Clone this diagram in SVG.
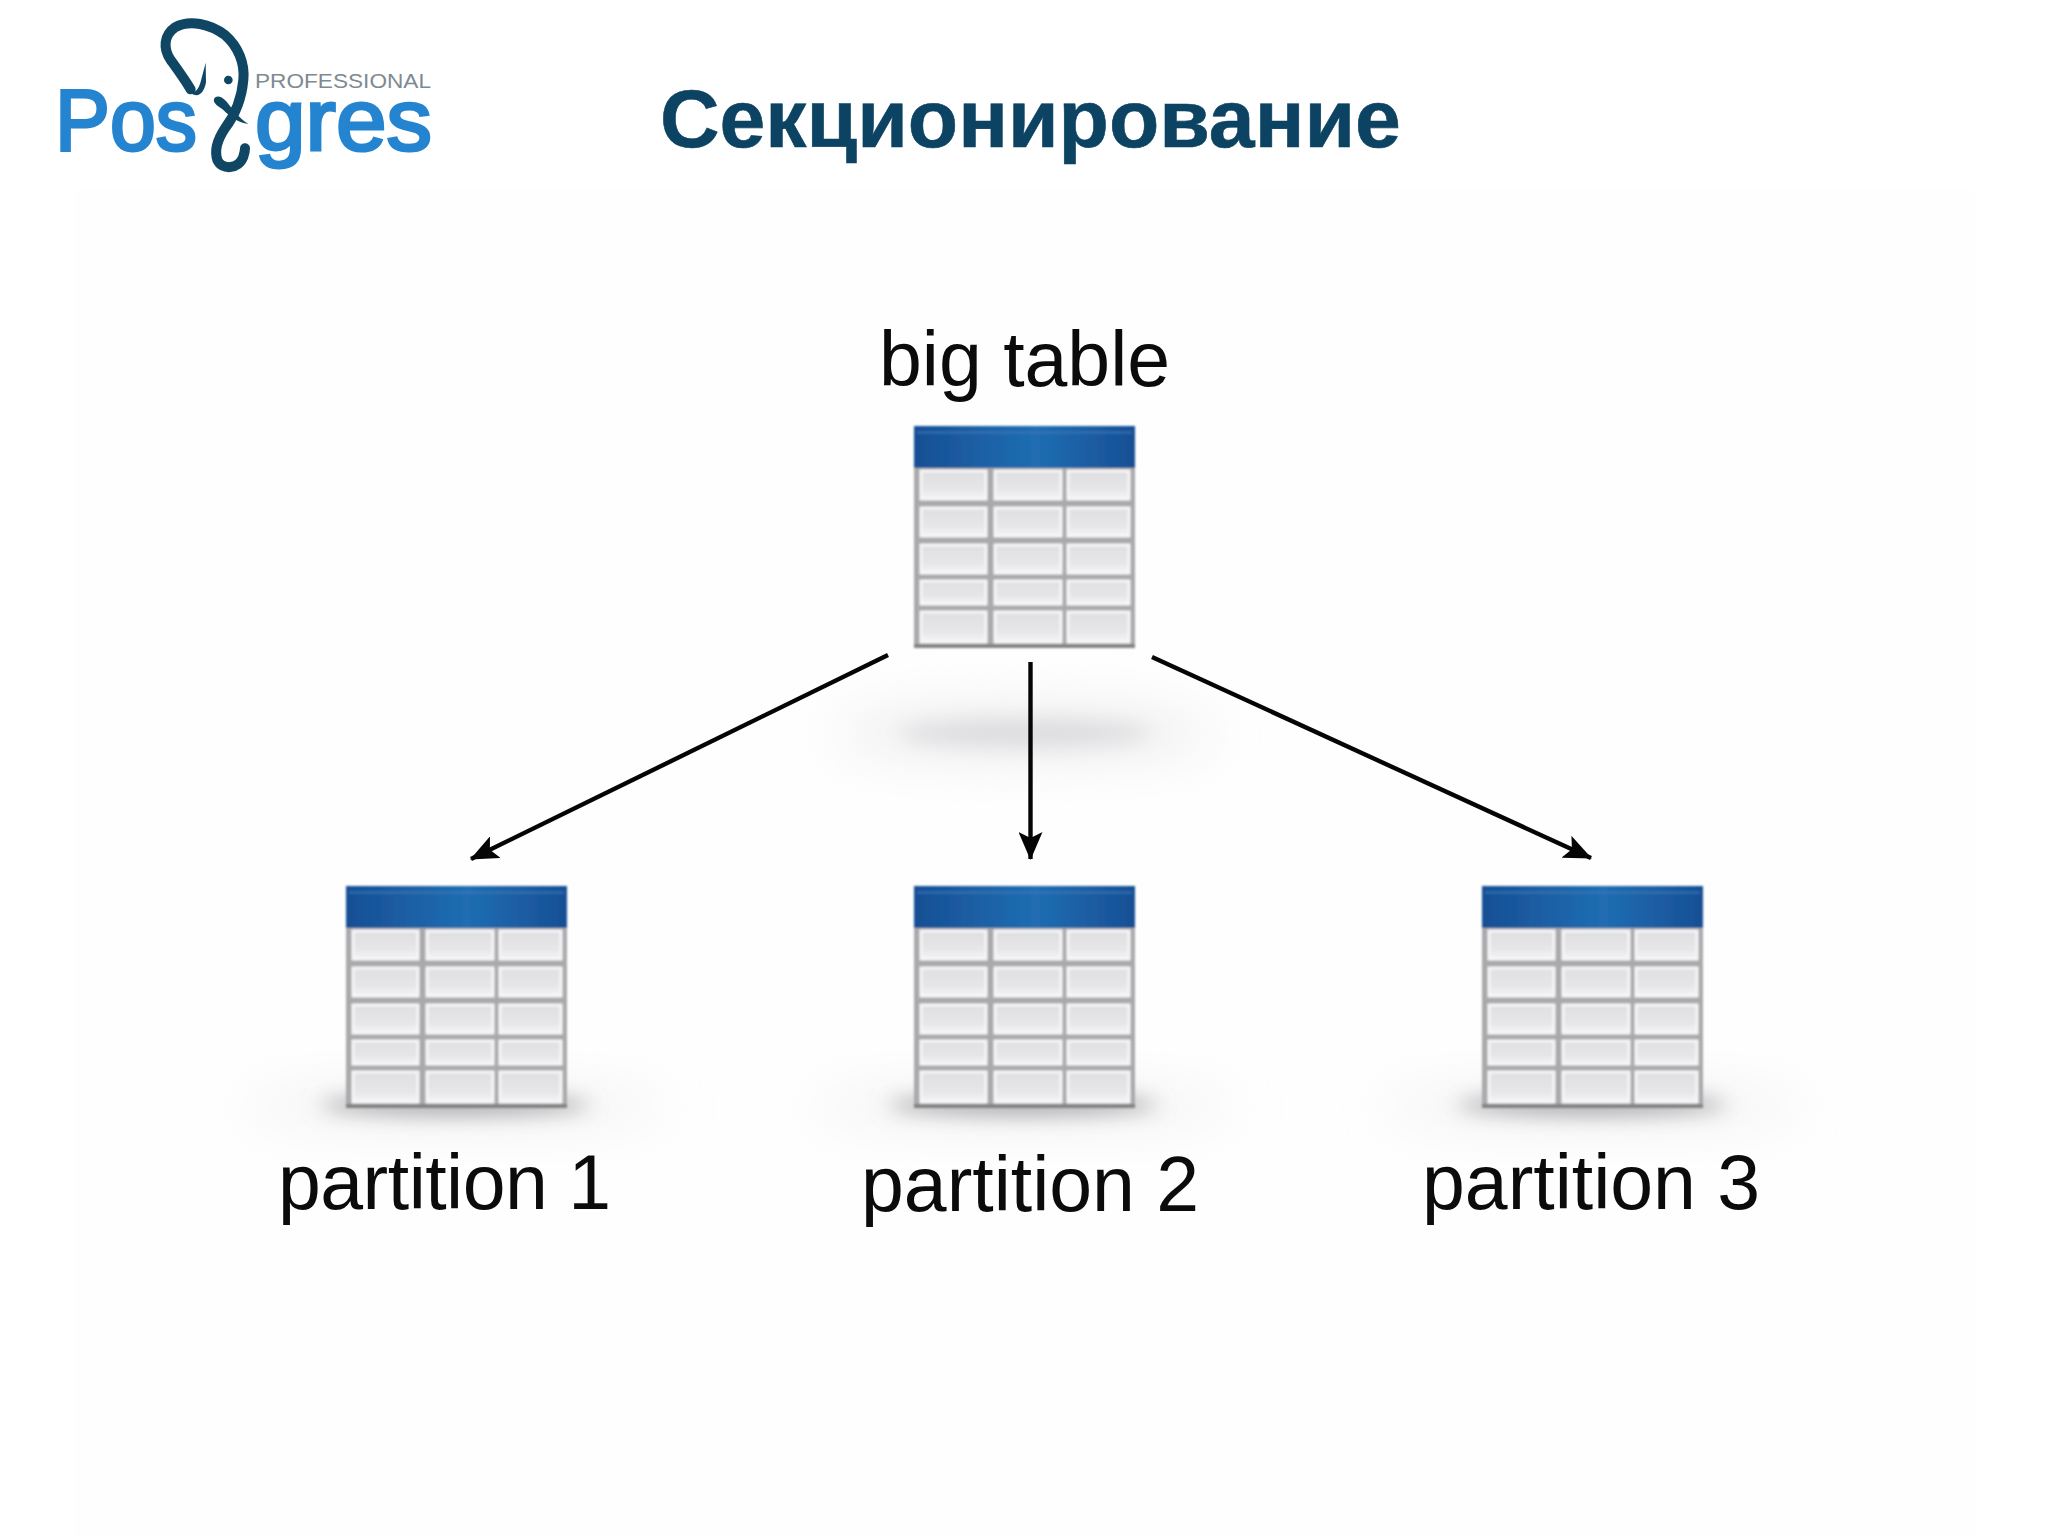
<svg xmlns="http://www.w3.org/2000/svg" width="2048" height="1537" viewBox="0 0 2048 1537">
<style>
.lbl{font-family:"Liberation Sans",Arial,sans-serif;font-size:77px;fill:#0b0b0b}
.ttl{font-family:"Liberation Sans",Arial,sans-serif;font-size:82.4px;font-weight:700;fill:#0c4262;stroke:#0c4262;stroke-width:.6}
.pg{font-family:"Liberation Sans",Arial,sans-serif;font-size:87px;fill:#2584cf;stroke:#2584cf;stroke-width:3}
.pro{font-family:"Liberation Sans",Arial,sans-serif;font-size:20px;fill:#7d8a92}
.ele{fill:none;stroke:#0e4663;stroke-linecap:round;stroke-linejoin:round}
.arrow{fill:none;stroke:#050505;stroke-width:4.4;marker-end:url(#head)}
.cell{fill:url(#cellG);stroke:#f6f6f7;stroke-width:3}
</style>
<defs>
<linearGradient id="hdr" x1="0" x2="1" y1="0" y2="0"><stop offset="0" stop-color="#174f94"/><stop offset=".55" stop-color="#206db2"/><stop offset="1" stop-color="#174f94"/></linearGradient>
<linearGradient id="cellG" x1="0" x2="0" y1="0" y2="1"><stop offset="0" stop-color="#dfdfe1"/><stop offset=".65" stop-color="#e6e6e8"/><stop offset="1" stop-color="#f5f5f6"/></linearGradient>
<filter id="soft" x="-5%" y="-5%" width="110%" height="110%"><feGaussianBlur stdDeviation="1.1"/></filter>
<filter id="sh" x="-30%" y="-150%" width="160%" height="400%"><feGaussianBlur stdDeviation="10"/></filter>
<filter id="sh2" x="-30%" y="-150%" width="160%" height="400%"><feGaussianBlur stdDeviation="26"/></filter>
<marker id="head" markerUnits="userSpaceOnUse" viewBox="0 0 28 24" markerWidth="28" markerHeight="24" refX="27" refY="12" orient="auto"><path d="M0 0L28 12L0 24L6 12Z" fill="#050505"/></marker>
<g id="table" filter="url(#soft)">
<rect x="0" y="0" width="221" height="221" fill="#a9a9ab"/>
<rect x="0" y="218" width="221" height="4" fill="#838385"/>
<rect x="0" y="0" width="221" height="42" fill="url(#hdr)"/>
<rect x="3" y="5" width="215" height="3" fill="#3f79b8" opacity=".5"/>
<rect class="cell" x="7" y="45" width="65" height="28"/><rect class="cell" x="81" y="45" width="66" height="28"/><rect class="cell" x="154" y="45" width="61" height="28"/>
<rect class="cell" x="7" y="82" width="65" height="28"/><rect class="cell" x="81" y="82" width="66" height="28"/><rect class="cell" x="154" y="82" width="61" height="28"/>
<rect class="cell" x="7" y="119" width="65" height="28"/><rect class="cell" x="81" y="119" width="66" height="28"/><rect class="cell" x="154" y="119" width="61" height="28"/>
<rect class="cell" x="7" y="155" width="65" height="23"/><rect class="cell" x="81" y="155" width="66" height="23"/><rect class="cell" x="154" y="155" width="61" height="23"/>
<rect class="cell" x="7" y="186" width="65" height="30"/><rect class="cell" x="81" y="186" width="66" height="30"/><rect class="cell" x="154" y="186" width="61" height="30"/>
</g>
<g id="shadow">
<ellipse cx="110" cy="222" rx="210" ry="14" fill="#eaeaec" filter="url(#sh2)"/>
<ellipse cx="110" cy="220" rx="135" ry="10" fill="#a8a8aa" filter="url(#sh)"/>
</g>
</defs>
<rect width="2048" height="1537" fill="#ffffff"/>
<rect x="75" y="190" width="1900" height="1347" fill="#fefefe"/>

<g id="logo">
<text class="pg" x="55" y="150" textLength="142" lengthAdjust="spacingAndGlyphs">Pos</text>
<text class="pg" x="255" y="150" textLength="177" lengthAdjust="spacingAndGlyphs">gres</text>
<text class="pro" x="255" y="88" textLength="176" lengthAdjust="spacingAndGlyphs">PROFESSIONAL</text>
<g transform="translate(30 0) scale(.33333)">
<path class="ele" stroke-width="30" d="M482 268C462 235 440 205 422 180C398 145 402 105 435 82C480 58 540 72 585 105C625 140 645 190 640 240C635 295 615 345 585 385C565 415 552 450 562 480C575 510 625 510 640 470C644 458 645 450 645 445"/>
<path d="M468 262C490 290 505 270 512 245L527 188L528 245C525 275 500 310 468 262Z" fill="#0e4663"/>
<circle cx="595" cy="240" r="13" fill="#0e4663"/>
<path d="M552 297C560 284 575 290 590 305C605 325 625 352 655 372C625 368 600 350 580 330C565 318 548 310 552 297Z" fill="#0e4663"/>
</g>
</g>

<text id="title" class="ttl" x="660" y="147">Секционирование</text>

<g id="big-table">
<ellipse cx="1025" cy="733" rx="190" ry="26" fill="#ececee" filter="url(#sh2)"/>
<ellipse cx="1025" cy="733" rx="125" ry="13" fill="#dcdcde" filter="url(#sh)"/>
<use href="#table" x="914" y="426"/>
<text class="lbl" x="879" y="386">big table</text>
</g>
<g id="partition-1">
<use href="#shadow" x="345" y="885"/>
<use href="#table" x="346" y="886"/>
<text class="lbl" x="278" y="1209" textLength="333">partition 1</text>
</g>
<g id="partition-2">
<use href="#shadow" x="913" y="885"/>
<use href="#table" x="914" y="886"/>
<text class="lbl" x="861" y="1211">partition 2</text>
</g>
<g id="partition-3">
<use href="#shadow" x="1482" y="885"/>
<use href="#table" x="1482" y="886"/>
<text class="lbl" x="1422" y="1209">partition 3</text>
</g>

<g id="connectors">
<line class="arrow" x1="888" y1="655" x2="471" y2="859"/>
<line class="arrow" x1="1030.5" y1="662" x2="1030.5" y2="859"/>
<line class="arrow" x1="1152" y1="657" x2="1591" y2="858"/>
</g>
</svg>
